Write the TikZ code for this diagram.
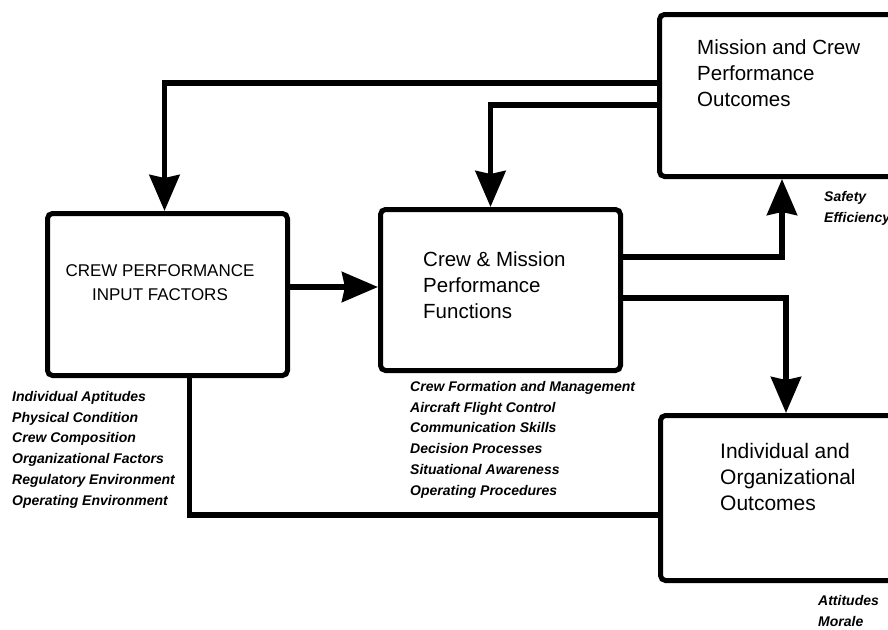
\documentclass[tikz,border=0pt]{standalone}
\usepackage{fontspec}
\setmainfont{Liberation Sans}
\usetikzlibrary{arrows.meta,calc}
\begin{document}
\begin{tikzpicture}[x=1pt,y=1pt,
  box/.style={draw, line width=5pt, rounded corners=5pt, inner sep=0pt, anchor=north west},
  conn/.style={line width=5.5pt},
  arr/.style={conn, -{Stealth[length=36pt,width=30pt,inset=3pt]}},
  boxtext/.style={align=left, anchor=west, font=\fontsize{20.5}{26}\selectfont, inner sep=0pt},
  captext/.style={align=center, font=\fontsize{17}{24}\selectfont, inner sep=0pt},
  lbl/.style={align=left, anchor=north west, inner sep=0pt, font=\bfseries\itshape\fontsize{14}{20.8}\selectfont}]
\useasboundingbox (0,0) rectangle (888,-629);
\clip (0,0) rectangle (888,-629);
\fill[white] (0,0) rectangle (888,-629);
% boxes
\node[box, minimum width=240pt, minimum height=162pt] (A) at (45,-211) {};
\node[box, minimum width=240pt, minimum height=161pt] (B) at (378,-207) {};
\node[box, minimum width=260pt, minimum height=162pt] (C) at (657,-12) {};
\node[box, minimum width=260pt, minimum height=165pt] (D) at (658,-413) {};
% box texts
\node[captext] (At) at (160,-283) {CREW PERFORMANCE\\INPUT FACTORS};
\node[boxtext] (Bt) at (423,-285) {Crew \& Mission\\Performance\\Functions};
\node[boxtext] (Ct) at (697,-73) {Mission and Crew\\Performance\\Outcomes};
\node[boxtext, font=\fontsize{21}{26}\selectfont] (Dt) at (720,-477) {Individual and\\Organizational\\Outcomes};
% labels
\node[lbl] (Al) at (12,-391) {Individual Aptitudes\\Physical Condition\\Crew Composition\\Organizational Factors\\Regulatory Environment\\Operating Environment};
\node[lbl] (Bl) at (410,-381) {Crew Formation and Management\\Aircraft Flight Control\\Communication Skills\\Decision Processes\\Situational Awareness\\Operating Procedures};
\node[lbl] (Cl) at (824,-191) {Safety\\Efficiency};
\node[lbl] (Dl) at (818,-595) {Attitudes\\Morale};
% connectors
\draw[arr] (C.west |- 0,-83) -| ([xshift=-3pt]A.north);
\draw[arr] (C.west |- 0,-105) -| ([xshift=-10pt]B.north);
\draw[arr] (A.east |- 0,-287) -- (B.west |- 0,-287);
\draw[arr] (B.east |- 0,-257) -| (C.south -| 782,0);
\draw[arr] (B.east |- 0,-298) -| (D.north -| 786,0);
\draw[conn] ([xshift=22pt]A.south) |- (D.west |- 0,-515);
\end{tikzpicture}
\end{document}
